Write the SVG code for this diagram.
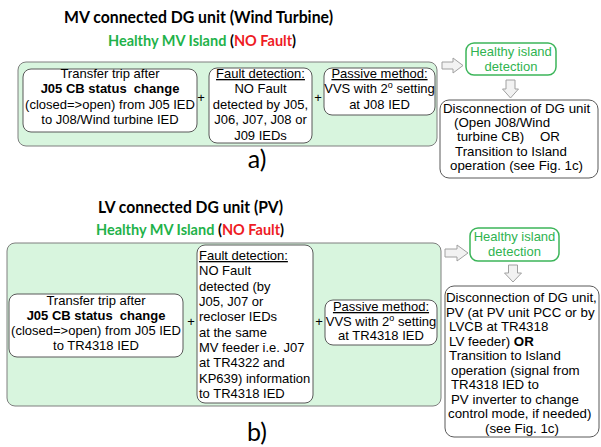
<svg xmlns="http://www.w3.org/2000/svg" width="601" height="447" viewBox="0 0 601 447">
<defs>
<style>
.bg{fill:#ffffff}
.grp{fill:#d8f5de;stroke:#7f7f7f;stroke-width:1}
.box{fill:#ffffff;stroke:#595959;stroke-width:1}
.hid{fill:#ffffff;stroke:#3cb55a;stroke-width:1.5}
.arr{fill:#f2f2f2;stroke:#a0a0a0;stroke-width:1}
.t{font-family:"Liberation Sans",Arial,sans-serif;font-size:13px;fill:#000000}
.tc{text-anchor:middle}
.b{font-weight:bold}
.u{text-decoration:underline}
.d{font-family:"Liberation Sans",Arial,sans-serif;font-size:13.3px;fill:#000000}
.g{font-family:"Liberation Sans",Arial,sans-serif;font-size:13px;fill:#2fb350;text-anchor:middle}
.title{font-family:Lato,"Open Sans",sans-serif;font-weight:bold;font-size:17.5px;fill:#000000}
.sub{font-family:Lato,"Open Sans",sans-serif;font-weight:bold;font-size:14.5px;fill:#000000}
.grn{fill:#1fb24a}
.red{fill:#ee1c25}
.lab{font-family:Lato,"Open Sans",sans-serif;font-size:25px;fill:#000000;text-anchor:middle}
</style>
</defs>
<rect class="bg" x="0" y="0" width="601" height="447"/>

<!-- Part a -->
<g id="title-a">
<text class="title" x="64" y="23" textLength="269" lengthAdjust="spacingAndGlyphs">MV connected DG unit (Wind Turbine)</text>
<text class="sub" x="202" y="46" text-anchor="middle"><tspan class="grn">Healthy MV Island </tspan>(<tspan class="red">NO Fault</tspan>)</text>
</g>

<g id="group-a">
<rect class="grp" x="18" y="62" width="419" height="84" rx="8"/>
</g>

<g id="a-transfer">
<rect class="box" x="23" y="69" width="174" height="63" rx="8"/>
<text class="t tc" x="110" y="78">Transfer trip after</text>
<text class="t tc b" x="110" y="93" xml:space="preserve">J05 CB status  change</text>
<text class="t tc" x="110" y="109">(closed=&gt;open) from J05 IED</text>
<text class="t tc" x="110" y="124">to J08/Wind turbine IED</text>
</g>

<g id="a-fault">
<rect class="box" x="209" y="68" width="103" height="75" rx="8"/>
<text class="t tc u" x="260.5" y="78">Fault detection:</text>
<text class="t tc" x="260.5" y="93">NO Fault</text>
<text class="t tc" x="260.5" y="109">detected by J05,</text>
<text class="t tc" x="260.5" y="124">J06, J07, J08 or</text>
<text class="t tc" x="260.5" y="140">J09 IEDs</text>
</g>

<g id="a-passive">
<rect class="box" x="324" y="68" width="111" height="47" rx="8"/>
<text class="t tc u" x="379.5" y="78">Passive method:</text>
<text class="t tc" x="379.5" y="93">VVS with 2<tspan font-size="9" dy="-5">o</tspan><tspan dy="5"> setting</tspan></text>
<text class="t tc" x="379.5" y="109">at J08 IED</text>
</g>

<g id="a-plus">
<text class="t tc" x="201" y="102">+</text>
<text class="t tc" x="318" y="102">+</text>
</g>

<g id="a-hid">
<rect class="hid" x="466" y="43" width="90" height="32" rx="8"/>
<text class="g" x="511" y="56">Healthy island</text>
<text class="g" x="511" y="70.5">detection</text>
</g>

<g id="a-disc">
<rect class="box" x="440" y="100" width="158" height="78" rx="9"/>
<text class="d" x="443" y="113">Disconnection of DG unit</text>
<text class="d" x="454" y="127">(Open J08/Wind</text>
<text class="d" x="457" y="141">turbine CB)</text>
<text class="d" x="540" y="141">OR</text>
<text class="d" x="455" y="156">Transition to Island</text>
<text class="d" x="450" y="170">operation (see Fig. 1c)</text>
</g>

<text class="lab" x="257" y="168">a)</text>

<!-- Part b -->
<g id="title-b">
<text class="title" x="98" y="213" textLength="185" lengthAdjust="spacingAndGlyphs">LV connected DG unit (PV)</text>
<text class="sub" x="190" y="235" text-anchor="middle"><tspan class="grn">Healthy MV Island </tspan>(<tspan class="red">NO Fault</tspan>)</text>
</g>

<g id="group-b">
<rect class="grp" x="7" y="243" width="434" height="163" rx="8"/>
</g>

<g id="b-transfer">
<rect class="box" x="9" y="294" width="174" height="63" rx="8"/>
<text class="t tc" x="96" y="305">Transfer trip after</text>
<text class="t tc b" x="96" y="320" xml:space="preserve">J05 CB status  change</text>
<text class="t tc" x="96" y="335">(closed=&gt;open) from J05 IED</text>
<text class="t tc" x="96" y="350">to TR4318 IED</text>
</g>

<g id="b-fault">
<rect class="box" x="197" y="245" width="116" height="158" rx="8"/>
<text class="t u" x="199" y="260">Fault detection:</text>
<text class="t" x="199" y="275">NO Fault</text>
<text class="t" x="199" y="291">detected (by</text>
<text class="t" x="199" y="306">J05, J07 or</text>
<text class="t" x="199" y="321">recloser IEDs</text>
<text class="t" x="199" y="337">at the same</text>
<text class="t" x="199" y="352">MV feeder i.e. J07</text>
<text class="t" x="199" y="367">at TR4322 and</text>
<text class="t" x="199" y="383">KP639) information</text>
<text class="t" x="199" y="398">to TR4318 IED</text>
</g>

<g id="b-passive">
<rect class="box" x="325" y="300" width="112" height="45" rx="8"/>
<text class="t tc u" x="381" y="311">Passive method:</text>
<text class="t tc" x="381" y="326">VVS with 2<tspan font-size="9" dy="-5">o</tspan><tspan dy="5"> setting</tspan></text>
<text class="t tc" x="381" y="340">at TR4318 IED</text>
</g>

<g id="b-plus">
<text class="t tc" x="191" y="326">+</text>
<text class="t tc" x="319" y="326">+</text>
</g>

<g id="b-hid">
<rect class="hid" x="470" y="228" width="89" height="33" rx="8"/>
<text class="g" x="514.5" y="241">Healthy island</text>
<text class="g" x="514.5" y="256">detection</text>
</g>

<g id="b-disc">
<rect class="box" x="445" y="286" width="154" height="151" rx="9"/>
<text class="d" x="446" y="302">Disconnection of DG unit,</text>
<text class="d" x="446" y="317">PV (at PV unit PCC or by</text>
<text class="d" x="449" y="331">LVCB at TR4318</text>
<text class="d" x="449" y="346">LV feeder) <tspan font-weight="bold">OR</tspan></text>
<text class="d" x="449" y="360">Transition to Island</text>
<text class="d" x="451" y="375">operation (signal from</text>
<text class="d" x="451" y="389">TR4318 IED to</text>
<text class="d" x="451" y="404">PV inverter to change</text>
<text class="d" x="448" y="418">control mode, if needed)</text>
<text class="d" x="522" y="433" text-anchor="middle">(see Fig. 1c)</text>
</g>

<text class="lab" x="257" y="441">b)</text>

<g id="connectors">
<polygon class="arr" points="442,62 453,62 453,58 463,65.5 453,73 453,69 442,69"/>
<polygon class="arr" points="506,80 515,80 515,89 518.5,89 510.5,98 502.5,89 506,89"/>
<polygon class="arr" points="445,249 457,249 457,245 468,253 457,261 457,257 445,257"/>
<polygon class="arr" points="508.5,265 517.5,265 517.5,273 521.5,273 513,282 504.5,273 508.5,273"/>
</g>
</svg>
